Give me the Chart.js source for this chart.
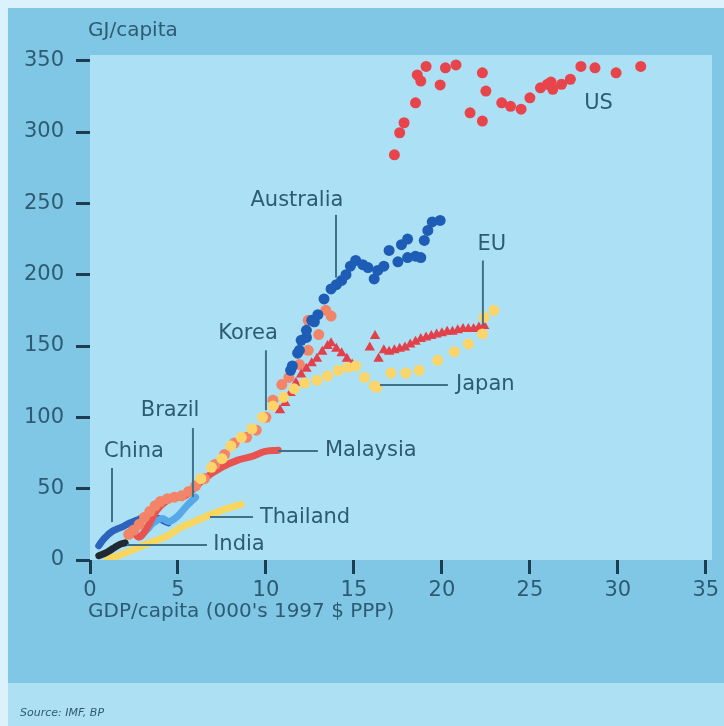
<!DOCTYPE html>
<html><head><meta charset="utf-8">
<script src="https://cdn.jsdelivr.net/npm/chart.js@4.4.1/dist/chart.umd.min.js"></script>
<style>html,body{margin:0;padding:0;background:#dbf2fc;}canvas{display:block;}</style>
</head><body>
<canvas id="c" width="724" height="726"></canvas>
<script>
// ---- data (GDP/capita in 000's 1997 $ PPP, energy GJ/capita) ----
const usGdp = [17.3,17.6,17.85,18.5,18.6,18.8,19.1,19.9,20.2,20.8,21.6,22.3,22.3,22.5,23.4,23.9,24.5,25.0,25.6,26.0,26.2,26.3,26.8,27.3,27.9,28.7,29.9,31.3];
const usEnergy = [284,299.5,306.5,320.5,340,335.7,346,333,345,347,313.5,307.7,341.5,328.7,320.5,318,316,324,331,333.5,335,330,333.5,337,346,345,341.5,346];

const ausGdp = [11.4,11.5,11.8,11.9,12.0,12.3,12.3,12.6,12.75,12.95,13.3,13.7,14.0,14.3,14.55,14.8,15.1,15.5,15.8,16.15,16.35,16.7,17.0,17.5,17.7,18.05,18.05,18.5,18.8,19.0,19.2,19.45,19.9];
const ausEnergy = [133,136,145,147,154,156,161,168,167,172,183,190,193,196,200,206,210,207,205,197,203,206,217,209,221,212,225,213,212,224,231,237,238];

const japanGdp = [6.3,6.9,7.5,8.0,8.6,9.2,9.8,10.4,11.0,11.6,12.2,12.9,13.5,14.1,14.65,15.1,15.6,16.15,16.3,17.1,17.95,18.7,19.75,20.7,21.5,22.3,22.4,22.95];
const japanEnergy = [57,65,71,80,86,92,100,108,114,120,124,126,129,133,135,136,128,122,121,131,131,133,140,146,151.5,158.5,170,175];

const koreaGdp = [2.2,2.5,2.8,3.1,3.4,3.7,4.0,4.4,4.8,5.2,5.6,6.0,6.5,7.1,7.65,8.2,8.9,9.45,10.0,10.4,10.9,11.3,11.9,12.4,12.4,13.0,13.4,13.7];
const koreaEnergy = [18,21,25,30,34,38,41,43,44,45,48,52,57,67,74,82,86,91,100,112,123,128,137,147,168,158,175,171];

const euGdp = [10.8,11.1,11.4,11.7,12.0,12.3,12.6,12.9,13.2,13.5,13.7,14.0,14.3,14.6,14.9,15.9,16.2,16.4,16.7,17.0,17.3,17.6,17.9,18.2,18.5,18.8,19.1,19.4,19.7,20.0,20.3,20.6,20.9,21.2,21.5,21.8,22.1,22.4];
const euEnergy = [105,110,117,124,130,134,138,141,146,150,152,148,145,141,137,149,157,141,147,146,147,148,149,151,153,155,156,157,158,159,160,160,161,162,162,162,163,164];

const malGdp = [2.4,2.8,3.3,3.8,4.3,4.9,5.4,5.9,6.5,7.5,8.4,9.3,9.9,10.7];
const malEnergy = [22,16,24,35,41,44,45,50,57,65,70,73,76,77];

const chinaGdp = [0.5,0.8,1.25,1.8,2.2,2.7,3.3,3.9,4.45];
const chinaEnergy = [10,15,20,23,25.6,28,31,29,26];

const brazilGdp = [2.9,3.3,3.6,4.1,4.5,5.0,5.5,6.0];
const brazilEnergy = [17,22,26,29,27,31,38,44];

const indiaGdp = [0.5,0.9,1.3,1.7,2.0];
const indiaEnergy = [3,5,8,11,12];

const thaiGdp = [1.0,1.6,2.4,3.3,4.3,5.2,6.15,6.8,7.75,8.6];
const thaiEnergy = [1,3,7,11.6,16.3,23,28,31.5,36,39];

const xTicks = [0,5,10,15,20,25,30,35];
const yTicks = [0,50,100,150,200,250,300,350];

// label annotations in data coordinates
const labelTexts = ['US','Australia','EU','Japan','Korea','Malaysia','Brazil','China','Thailand','India'];
const labelAt = [[28.9,320],[11.76,252],[22.84,221],[20.8,122.7],[8.98,159],[13.35,76.4],[4.55,105],[2.5,75.7],[9.66,30.1],[7.0,10.5]];
const labelAlign = ['center','center','center','left','center','left','center','center','left','left'];
const leaderFrom = [null,[13.98,242],[22.33,210],[16.48,122.7],[10.0,147],[10.68,76.4],[5.85,92.5],[1.25,64.5],[6.82,30.1],[2.1,10.5]];
const leaderTo = [null,[13.98,198],[22.33,165],[20.34,122.7],[10.0,105],[12.95,76.4],[5.85,44.2],[1.25,26.6],[9.26,30.1],[6.65,10.5]];

const pts = (xs, ys) => xs.map((x, i) => ({x, y: ys[i]}));
const FONT = "'DejaVu Sans', sans-serif";
const TXT = '#2d5b73';
const TICKC = '#1d3d52';

const lineDs = (label, xs, ys, color, order) => ({
  label, data: pts(xs, ys), showLine: true, borderColor: color, backgroundColor: color,
  borderWidth: 7, pointRadius: 0, tension: 0.4, order, borderCapStyle: 'round', borderJoinStyle: 'round'
});
const dotDs = (label, xs, ys, color, order, style, r) => ({
  label, data: pts(xs, ys), showLine: false, backgroundColor: color, borderColor: color,
  borderWidth: 0, pointRadius: r, pointStyle: style, order, clip: 0
});

const bgPlugin = {
  id: 'bg',
  beforeDraw(chart) {
    const c = chart.ctx, a = chart.chartArea;
    c.save();
    c.fillStyle = '#dbf2fc'; c.fillRect(0, 0, 724, 726);
    c.fillStyle = '#80c7e5'; c.fillRect(8, 8, 716, 675);
    c.fillStyle = '#aee0f4'; c.fillRect(8, 683, 716, 43);
    c.fillStyle = '#ace0f5'; c.fillRect(a.left, a.top, a.right - a.left, a.bottom - a.top);
    c.restore();
  },
  afterDatasetsDraw(chart) {
    const c = chart.ctx, xs = chart.scales.x, ys = chart.scales.y;
    c.save();
    c.strokeStyle = '#3f7188'; c.lineWidth = 2;
    leaderFrom.forEach((f, i) => {
      if (!f) return;
      const t = leaderTo[i];
      c.beginPath();
      c.moveTo(xs.getPixelForValue(f[0]), ys.getPixelForValue(f[1]));
      c.lineTo(xs.getPixelForValue(t[0]), ys.getPixelForValue(t[1]));
      c.stroke();
    });
    c.fillStyle = TXT; c.font = '21px ' + FONT; c.textBaseline = 'middle';
    labelTexts.forEach((s, i) => {
      c.textAlign = labelAlign[i];
      c.fillText(s, xs.getPixelForValue(labelAt[i][0]), ys.getPixelForValue(labelAt[i][1]));
    });
    c.textAlign = 'left';
    c.font = '20px ' + FONT;
    c.fillText('GJ/capita', 88, 31);
    c.fillText("GDP/capita (000's 1997 $ PPP)", 88, 612);
    c.font = 'italic 11px ' + FONT;
    c.fillText('Source: IMF, BP', 20, 713);
    c.restore();
  }
};

new Chart(document.getElementById('c'), {
  type: 'scatter',
  data: { datasets: [
    dotDs('US', usGdp, usEnergy, '#e8444c', 1, 'circle', 5.5),
    dotDs('Australia', ausGdp, ausEnergy, '#1e5db6', 2, 'circle', 5.5),
    dotDs('Japan', japanGdp, japanEnergy, '#fbd56a', 3, 'circle', 5.5),
    dotDs('EU', euGdp, euEnergy, '#e2404a', 4, 'triangle', 6),
    dotDs('Korea', koreaGdp, koreaEnergy, '#f28468', 5, 'circle', 5.5),
    lineDs('Malaysia', malGdp, malEnergy, '#e8524f', 6),
    lineDs('Brazil', brazilGdp, brazilEnergy, '#55a9e8', 7),
    lineDs('China', chinaGdp, chinaEnergy, '#2b63bd', 8),
    lineDs('India', indiaGdp, indiaEnergy, '#1f2a33', 9),
    lineDs('Thailand', thaiGdp, thaiEnergy, '#f7d660', 10)
  ]},
  options: {
    responsive: false, animation: false, events: [],
    layout: { padding: { left: 0, right: 12, top: 55, bottom: 0 } },
    plugins: { legend: { display: false }, tooltip: { enabled: false } },
    scales: {
      x: {
        type: 'linear', min: 0, max: 35.35,
        afterFit: s => { s.height = 166; },
        afterBuildTicks: s => { s.ticks = xTicks.map(v => ({value: v})); },
        ticks: { font: { family: FONT, size: 21 }, color: TXT, padding: 4, maxRotation: 0 },
        grid: { drawOnChartArea: false, drawTicks: true, tickLength: 14, tickWidth: 3, tickColor: TICKC },
        border: { display: false }
      },
      y: {
        type: 'linear', min: 0, max: 354,
        afterFit: s => { s.width = 90; },
        afterBuildTicks: s => { s.ticks = yTicks.map(v => ({value: v})); },
        ticks: { font: { family: FONT, size: 21 }, color: TXT, padding: 12 },
        grid: { drawOnChartArea: false, drawTicks: true, tickLength: 14, tickWidth: 3, tickColor: TICKC },
        border: { display: false }
      }
    }
  },
  plugins: [bgPlugin]
});
</script>
</body></html>
